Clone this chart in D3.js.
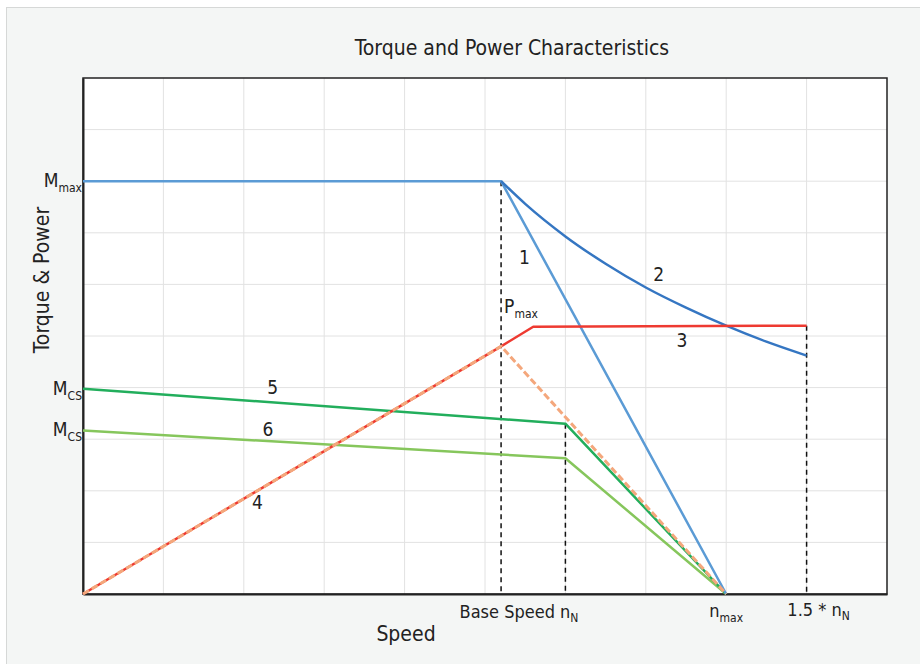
<!DOCTYPE html>
<html>
<head>
<meta charset="utf-8">
<script src="https://cdn.jsdelivr.net/npm/d3@7"></script>
<style>
  body { margin: 0; background: #fff; }
  svg text { font-family: "DejaVu Sans Condensed", "DejaVu Sans", sans-serif; fill: #222; }
</style>
</head>
<body>
<svg id="chart" width="920" height="664"></svg>
<script>
// speed and torque in grid units (0..10)
const baseSpeed = 5.2;
const nominalSpeed = 6;
const maxSpeed = 8;
const overSpeed = 9;
const xTicks = [0, 1, 2, 3, 4, 5, 6, 7, 8, 9, 10];
const yTicks = [0, 1, 2, 3, 4, 5, 6, 7, 8, 9, 10];

const curve1 = [[0, 8], [5.2, 8], [8, 0]];
const curve2 = [[5.2, 8], [5.5, 7.56], [6, 6.93], [6.5, 6.4], [7, 5.94], [7.5, 5.55], [8, 5.2], [8.5, 4.89], [9, 4.62]];
const curve3 = [[0, 0], [5.2, 4.8], [5.6, 5.18], [9, 5.2]];
const curve4 = [[0, 0], [5.2, 4.8], [8, 0]];
const curve5 = [[0, 3.98], [6, 3.3], [8, 0]];
const curve6 = [[0, 3.17], [6, 2.63], [8, 0]];

const dropLines = [[baseSpeed, 8], [nominalSpeed, 3.3], [overSpeed, 5.2]];
const curveLabels = [
  {t: '1', x: 5.49, y: 6.4}, {t: '2', x: 7.16, y: 6.07}, {t: '3', x: 7.45, y: 4.78},
  {t: '4', x: 2.17, y: 1.65}, {t: '5', x: 2.36, y: 3.88}, {t: '6', x: 2.3, y: 3.07}
];
const yLabels = [{v: 8, main: 'M', sub: 'max'}, {v: 3.98, main: 'M', sub: 'CS'}, {v: 3.17, main: 'M', sub: 'CS'}];

const svg = d3.select('#chart');
const margin = {left: 83, top: 78, right: 887, bottom: 594};

svg.append('rect')
  .attr('x', 6.5).attr('y', 7.5).attr('width', 920).attr('height', 664)
  .attr('fill', '#f4f6f5').attr('stroke', '#d6d8d7');

const x = d3.scaleLinear().domain([0, 10]).range([margin.left, margin.right]);
const y = d3.scaleLinear().domain([0, 10]).range([margin.bottom, margin.top]);

svg.append('rect')
  .attr('x', margin.left).attr('y', margin.top)
  .attr('width', margin.right - margin.left).attr('height', margin.bottom - margin.top)
  .attr('fill', '#fff');

const grid = svg.append('g').attr('stroke', '#e2e2e2').attr('stroke-width', 1);
grid.selectAll('line.v').data(xTicks.slice(1, -1)).enter().append('line')
  .attr('x1', d => x(d)).attr('x2', d => x(d)).attr('y1', y(0)).attr('y2', y(10));
grid.selectAll('line.h').data(yTicks.slice(1, -1)).enter().append('line')
  .attr('y1', d => y(d)).attr('y2', d => y(d)).attr('x1', x(0)).attr('x2', x(10));

svg.append('rect')
  .attr('x', margin.left).attr('y', margin.top)
  .attr('width', margin.right - margin.left).attr('height', margin.bottom - margin.top)
  .attr('fill', 'none').attr('stroke', '#222').attr('stroke-width', 1.5);

svg.append('g')
  .attr('transform', `translate(0,${margin.bottom})`)
  .call(d3.axisBottom(x).tickValues([]).tickSizeOuter(0))
  .call(g => g.select('.domain').attr('stroke', '#222').attr('stroke-width', 2));
svg.append('g')
  .attr('transform', `translate(${margin.left},0)`)
  .call(d3.axisLeft(y).tickValues([]).tickSizeOuter(0))
  .call(g => g.select('.domain').attr('stroke', '#222').attr('stroke-width', 2));

// dashed drop lines
svg.append('g').selectAll('line').data(dropLines).enter().append('line')
  .attr('x1', d => x(d[0])).attr('x2', d => x(d[0]))
  .attr('y1', d => y(d[1])).attr('y2', y(0))
  .attr('stroke', '#111').attr('stroke-width', 1.5).attr('stroke-dasharray', '5,4');

const line = d3.line().x(d => x(d[0])).y(d => y(d[1]));
const curve2Line = d3.line().x(d => x(d[0])).y(d => y(d[1])).curve(d3.curveMonotoneX);

const drawPath = (data, gen, color, width, dash) => {
  svg.append('path').datum(data)
    .attr('d', gen).attr('fill', 'none')
    .attr('stroke', color).attr('stroke-width', width)
    .attr('stroke-dasharray', dash || null)
    .attr('stroke-linejoin', 'round');
};

drawPath(curve6, line, '#86c65c', 2.5);
drawPath(curve5, line, '#22ae5c', 2.5);
drawPath(curve1, line, '#5b9bd5', 2.5);
drawPath(curve2, curve2Line, '#3576c2', 2.5);
drawPath(curve3, line, '#ee3a31', 2.5);
drawPath(curve4, line, '#f4a77c', 3, '7,3');

svg.append('g').selectAll('text').data(curveLabels).enter().append('text')
  .attr('x', d => x(d.x)).attr('y', d => y(d.y))
  .attr('text-anchor', 'middle').attr('font-size', 19)
  .text(d => d.t);

// Pmax label
const pmax = svg.append('text').attr('x', x(baseSpeed) + 3).attr('y', y(5.45)).attr('font-size', 19);
pmax.append('tspan').text('P');
pmax.append('tspan').attr('font-size', 12).attr('dy', 5).text('max');

const yl = svg.append('g').selectAll('text').data(yLabels).enter().append('text')
  .attr('x', margin.left - 1).attr('y', d => y(d.v) + 6)
  .attr('text-anchor', 'end').attr('font-size', 19);
yl.append('tspan').text(d => d.main);
yl.append('tspan').attr('font-size', 12).attr('dy', 5).text(d => d.sub);

// x labels
const bs = svg.append('text').attr('x', 519).attr('y', 618).attr('text-anchor', 'middle').attr('font-size', 18);
bs.append('tspan').text('Base Speed n');
bs.append('tspan').attr('font-size', 12).attr('dy', 4).text('N');

const nm = svg.append('text').attr('x', x(maxSpeed)).attr('y', 617).attr('text-anchor', 'middle').attr('font-size', 18);
nm.append('tspan').text('n');
nm.append('tspan').attr('font-size', 12).attr('dy', 5).text('max');

const on = svg.append('text').attr('x', x(overSpeed) + 12).attr('y', 616).attr('text-anchor', 'middle').attr('font-size', 18);
on.append('tspan').text('1.5 * n');
on.append('tspan').attr('font-size', 12).attr('dy', 4).text('N');

svg.append('text').attr('x', 406).attr('y', 641).attr('text-anchor', 'middle').attr('font-size', 21).text('Speed');
svg.append('text').attr('transform', 'translate(49,280) rotate(-90)')
  .attr('text-anchor', 'middle').attr('font-size', 21).text('Torque & Power');

svg.append('text').attr('x', 512).attr('y', 55).attr('text-anchor', 'middle').attr('font-size', 21)
  .text('Torque and Power Characteristics');
</script>
</body>
</html>
